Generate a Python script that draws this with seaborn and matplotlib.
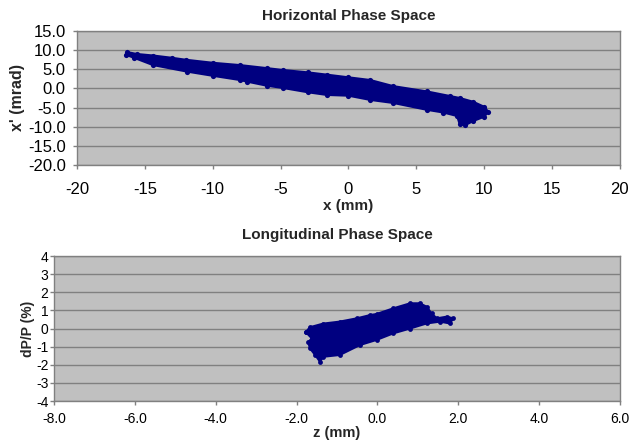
import matplotlib
matplotlib.use("Agg")
import matplotlib.pyplot as plt
from matplotlib.ticker import FormatStrFormatter
import seaborn as sns

# outline of the horizontal phase space cloud (x in mm, x' in mrad)
h_x = [-16.3, -15.6, -14.4, -13.0, -12.0, -10.0, -8.0, -6.0, -4.8, -3.0, -1.6, 0.0,
       1.6, 3.3, 5.8, 7.5, 8.2, 9.2, 10.0, 10.3,
       10.0, 9.2, 8.6, 8.2, 8.0, 7.0, 5.8, 3.3, 1.6, 0.0, -1.6, -3.0, -4.8, -6.0,
       -7.5, -8.0, -10.0, -11.9, -14.4, -15.8, -16.4]
h_y = [9.5, 9.0, 8.6, 8.0, 7.5, 6.7, 6.1, 5.3, 4.8, 4.2, 3.6, 2.9,
       2.2, 0.6, -0.8, -2.0, -2.5, -3.5, -4.8, -6.1,
       -7.4, -8.5, -9.6, -9.4, -7.2, -6.3, -5.6, -3.8, -3.0, -1.9, -1.7, -1.0, 0.1, 0.7,
       1.8, 2.2, 3.3, 4.4, 6.1, 8.0, 8.8]

# outline of the longitudinal phase space cloud (z in mm, dP/P in %)
l_z = [-1.77, -1.67, -1.34, -0.93, -0.51, -0.18, -0.02, 0.39, 0.81, 1.05, 1.22, 1.34,
       1.47, 1.71, 1.88, 1.79, 1.55, 1.22, 0.81, 0.39, -0.02, -0.43, -0.93, -1.34,
       -1.42, -1.54, -1.67, -1.71, -1.62, -1.77]
l_y = [-0.2, 0.07, 0.27, 0.38, 0.56, 0.74, 0.80, 1.11, 1.39, 1.39, 1.2, 0.83,
       0.56, 0.65, 0.56, 0.28, 0.38, 0.28, 0.0, -0.27, -0.63, -0.91, -1.46, -1.56,
       -1.83, -1.46, -1.09, -0.74, -0.55, -0.2]

h_xticks = [-20, -15, -10, -5, 0, 5, 10, 15, 20]
h_yticks = [-20, -15, -10, -5, 0, 5, 10, 15]
l_xticks = [-8, -6, -4, -2, 0, 2, 4, 6]
l_yticks = [-4, -3, -2, -1, 0, 1, 2, 3, 4]

navy = "#000080"
sns.set_style("white")
plt.rcParams['font.family'] = ['Liberation Sans', 'DejaVu Sans']
plt.rcParams['axes.unicode_minus'] = False

fig = plt.figure(figsize=(6.3, 4.41), dpi=100)
ax1 = fig.add_axes([0.1222, 0.6259, 0.8618, 0.3038])
ax2 = fig.add_axes([0.0857, 0.0907, 0.8983, 0.3288])

for ax in (ax1, ax2):
    ax.set_facecolor("#C0C0C0")
    for s in ax.spines.values():
        s.set_color("#808080")
        s.set_linewidth(1.0)
    ax.grid(axis="y", color="#808080", linewidth=1.0)
    ax.grid(axis="x", visible=False)
    ax.set_axisbelow(True)
    ax.tick_params(axis="both", direction="out", length=3, width=1, color="#808080",
                   labelcolor="black", left=True, bottom=True)

# top: horizontal phase space
ax1.fill(h_x, h_y, color=navy, linewidth=1.5, edgecolor=navy)
sns.scatterplot(x=h_x, y=h_y, ax=ax1, color=navy, s=14, linewidth=0)
ax1.set_xlim(-20, 20)
ax1.set_ylim(-20, 15)
ax1.set_xticks(h_xticks)
ax1.set_yticks(h_yticks)
ax1.yaxis.set_major_formatter(FormatStrFormatter("%.1f"))
ax1.tick_params(labelsize=12)
ax1.tick_params(axis="x", pad=9)
ax1.tick_params(axis="y", pad=5)
ax1.set_xlabel("x (mm)", fontsize=11, fontweight="bold", labelpad=2)
ax1.set_ylabel("x' (mrad)", fontsize=11.5, fontweight="bold", labelpad=2)
ax1.set_title("Horizontal Phase Space", fontsize=11, fontweight="bold", pad=8)

# bottom: longitudinal phase space
ax2.fill(l_z, l_y, color=navy, linewidth=1.5, edgecolor=navy)
sns.scatterplot(x=l_z, y=l_y, ax=ax2, color=navy, s=12, linewidth=0)
ax2.set_xlim(-8, 6)
ax2.set_ylim(-4, 4)
ax2.set_xticks(l_xticks)
ax2.set_yticks(l_yticks)
ax2.xaxis.set_major_formatter(FormatStrFormatter("%.1f"))
ax2.tick_params(labelsize=10)
ax2.tick_params(axis="x", pad=5)
ax2.tick_params(axis="y", pad=1)
ax2.set_xlabel("z (mm)", fontsize=10.5, fontweight="bold", labelpad=0)
ax2.set_ylabel("dP/P (%)", fontsize=10, fontweight="bold", labelpad=1)
ax2.set_title("Longitudinal Phase Space", fontsize=11, fontweight="bold", pad=12.5)

fig.savefig("out.png", dpi=100, facecolor="white")
